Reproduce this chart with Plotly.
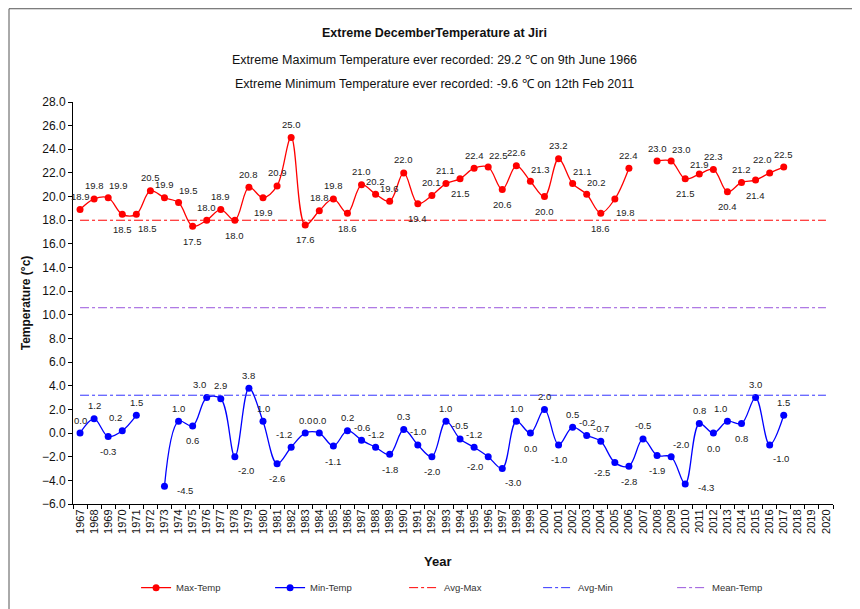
import plotly.graph_objects as go

YEARS = [str(y) for y in range(1967, 2021)]

MAX_TEMP = [18.9, 19.8, 19.9, 18.5, 18.5, 20.5, 19.9, 19.5, 17.5, 18.0,
            18.9, 18.0, 20.8, 19.9, 20.9, 25.0, 17.6, 18.8, 19.8, 18.6,
            21.0, 20.2, 19.6, 22.0, 19.4, 20.1, 21.1, 21.5, 22.4, 22.5,
            20.6, 22.6, 21.3, 20.0, 23.2, 21.1, 20.2, 18.6, 19.8, 22.4,
            None, 23.0, 23.0, 21.5, 21.9, 22.3, 20.4, 21.2, 21.4, 22.0,
            22.5]

MIN_TEMP = [0.0, 1.2, -0.3, 0.2, 1.5, None, -4.5, 1.0, 0.6, 3.0,
            2.9, -2.0, 3.8, 1.0, -2.6, -1.2, 0.0, 0.0, -1.1, 0.2,
            -0.6, -1.2, -1.8, 0.3, -1.0, -2.0, 1.0, -0.5, -1.2, -2.0,
            -3.0, 1.0, 0.0, 2.0, -1.0, 0.5, -0.2, -0.7, -2.5, -2.8,
            -0.5, -1.9, -2.0, -4.3, 0.8, 0.0, 1.0, 0.8, 3.0, -1.0,
            1.5]

AVG_MAX = 18.0
AVG_MIN = 3.2
MEAN_TEMP = 10.6

# label placement around each point (style only)
MAX_POS = ["t", "t", "tr", "b", "br", "t", "t", "tr", "b", "t",
           "t", "b", "t", "b", "t", "t", "b", "t", "t", "b",
           "t", "t", "t", "t", "b", "t", "t", "b", "t", "tr",
           "b", "t", "tr", "b", "t", "tr", "tr", "b", "br", "t",
           None, "t", "tr", "b", "ts", "t", "b", "t", "b", "tl",
           "t"]
MIN_POS = ["t", "t", "b", "tl", "t", None, "r", "t", "b", "tl",
           "t", "br", "t", "t", "b", "tl", "t", "t", "b", "t",
           "t", "t", "b", "t", "t", "b", "t", "t", "t", "bl",
           "br", "t", "b", "t", "b", "t", "t", "t", "bl", "b",
           "t", "b", "tr", "r", "t", "b", "tl", "b", "t", "br",
           "t"]
SHIFT = {"t": (0, 13), "ts": (0, 10), "b": (0, -15), "tr": (10, 12),
         "br": (11, -14), "tl": (-7, 13), "bl": (-13, -10), "r": (21, -4)}

FONT = "Arial, Liberation Sans, sans-serif"

fig = go.Figure()

yrs = YEARS[:len(MAX_TEMP)]
fig.add_trace(go.Scatter(
    x=yrs, y=MAX_TEMP, name="Max-Temp", mode="lines+markers",
    line=dict(color="#ff0000", width=1.3, shape="spline", smoothing=1.0),
    marker=dict(color="#ff0000", size=7), connectgaps=False,
))
fig.add_trace(go.Scatter(
    x=yrs, y=MIN_TEMP, name="Min-Temp", mode="lines+markers",
    line=dict(color="#0000ff", width=1.3, shape="spline", smoothing=1.0),
    marker=dict(color="#0000ff", size=7), connectgaps=False,
))
for val, name, color in [(AVG_MAX, "Avg-Max", "#ff0000"),
                         (AVG_MIN, "Avg-Min", "#3333ff"),
                         (MEAN_TEMP, "Mean-Temp", "#9955dd")]:
    fig.add_trace(go.Scatter(
        x=YEARS, y=[val] * len(YEARS), name=name, mode="lines",
        line=dict(color=color, width=1, dash="dashdot"),
    ))

# data labels (x given as category index)
for series, pos in [(MAX_TEMP, MAX_POS), (MIN_TEMP, MIN_POS)]:
    for i, (v, p) in enumerate(zip(series, pos)):
        if v is None:
            continue
        dx, dy = SHIFT[p]
        fig.add_annotation(x=i, y=v, text=f"{v:.1f}", showarrow=False,
                           xanchor="center", yanchor="middle",
                           xshift=dx, yshift=dy,
                           font=dict(size=9.5, color="#222222", family=FONT))

# titles
fig.add_annotation(text="<b>Extreme DecemberTemperature at Jiri</b>",
                   xref="paper", yref="paper", x=0.476, y=1.1716,
                   xanchor="center", yanchor="middle",
                   showarrow=False, font=dict(size=12.5, color="#111111"))
fig.add_annotation(text="Extreme Maximum Temperature ever recorded: 29.2 \u2103 on 9th June 1966",
                   xref="paper", yref="paper", x=0.476, y=1.104,
                   xanchor="center", yanchor="middle",
                   showarrow=False, font=dict(size=12.5, color="#111111"))
fig.add_annotation(text="Extreme Minimum Temperature ever recorded: -9.6 \u2103 on 12th Feb 2011",
                   xref="paper", yref="paper", x=0.476, y=1.045,
                   xanchor="center", yanchor="middle",
                   showarrow=False, font=dict(size=12.5, color="#111111"))
fig.add_annotation(text="<b>Year</b>", xref="paper", yref="paper",
                   x=0.48, y=-0.144, xanchor="center", yanchor="middle",
                   showarrow=False, font=dict(size=13, color="#111111"))

# outer chart border
fig.add_shape(type="rect", xref="paper", yref="paper",
              x0=-0.0842, x1=1.2, y0=-0.5, y1=1.232,
              line=dict(color="#555555", width=1), layer="below")

fig.update_layout(
    width=852, height=620,
    paper_bgcolor="white", plot_bgcolor="white",
    font=dict(family=FONT, color="#111111"),
    margin=dict(l=65, r=27, t=94, b=124),
    showlegend=True,
    legend=dict(orientation="h", x=0.083, y=-0.172, xanchor="left", yanchor="top",
                entrywidth=89, font=dict(size=9.5, color="#333333"),
                bgcolor="rgba(0,0,0,0)"),
)
fig.update_xaxes(
    type="category", categoryorder="array", categoryarray=YEARS,
    range=[-0.5, len(YEARS) - 0.5],
    showline=True, linecolor="#000000", linewidth=1,
    ticks="outside", ticklen=4, tickcolor="#000000", tickson="boundaries",
    tickangle=-90, tickfont=dict(size=11, color="#111111"),
    showgrid=False, zeroline=False,
)
fig.update_yaxes(
    range=[-6, 28], dtick=2, tickformat=".1f",
    showline=True, linecolor="#000000", linewidth=1,
    ticks="outside", ticklen=4, tickcolor="#000000",
    tickfont=dict(size=12, color="#111111"),
    title=dict(text="<b>Temperature (\u00b0c)</b>", font=dict(size=12), standoff=8),
    showgrid=False, zeroline=False,
)

fig.write_html("out.html")
